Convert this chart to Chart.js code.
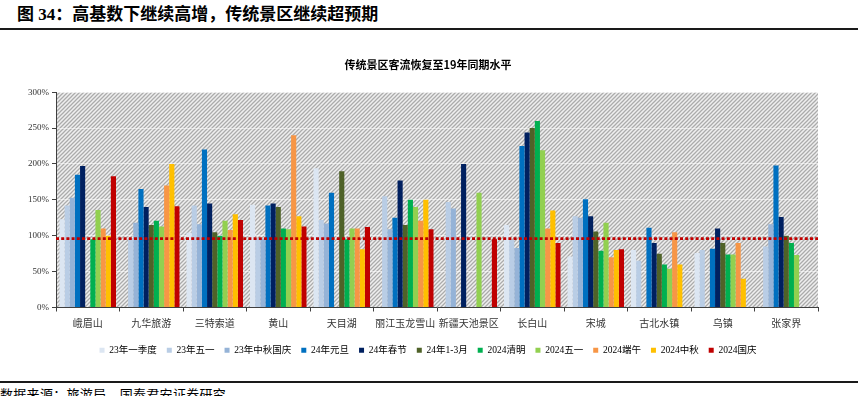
<!DOCTYPE html>
<html>
<head>
<meta charset="utf-8">
<script src="https://cdn.jsdelivr.net/npm/chart.js@4.4.0/dist/chart.umd.min.js"></script>
<style>
  body { margin: 0; background: #fff; width: 858px; height: 396px; overflow: hidden; position: relative;
         font-family: "Liberation Serif", "Noto Sans CJK SC", serif; color: #000; }
  #head { position: absolute; left: 17px; top: 4px; font-size: 17px; font-weight: bold; line-height: 22px; white-space: nowrap; }
  #headLine { position: absolute; left: 0; top: 28px; width: 858px; height: 2px; background: #1a1a1a; }
  #box { position: absolute; left: 0; top: 40px; width: 858px; height: 340px; }
  #footLine { position: absolute; left: 0; top: 381px; width: 858px; height: 2px; background: #1a1a1a; }
  #foot { position: absolute; left: 0; top: 387px; font-size: 13px; line-height: 16px; letter-spacing: 0.3px; white-space: nowrap; }
</style>
</head>
<body>
<div id="head">图 34：高基数下继续高增，传统景区继续超预期</div>
<div id="headLine"></div>
<div id="box"><canvas id="chart" width="858" height="340"></canvas></div>
<div id="footLine"></div>
<div id="foot">数据来源：旅游局，国泰君安证券研究</div>
<script>
// categories and series (percent of 2019 level)
const categories = ['峨眉山', '九华旅游', '三特索道', '黄山', '天目湖', '丽江玉龙雪山', '新疆天池景区', '长白山', '宋城', '古北水镇', '乌镇', '张家界'];
const seriesNames = ['23年一季度', '23年五一', '23年中秋国庆', '24年元旦', '24年春节', '24年1-3月', '2024清明', '2024五一', '2024端午', '2024中秋', '2024国庆'];

const q1_2023 =        [123, null, 104, 143, 194, null, null, 115, 71, 80, 76, null];
const mayDay_2023 =    [142, 97, 142, 97, 122, 155, 147, 94, 127, 65, 80, 85];
const autumn_2023 =    [153, 118, 116, 96, 117, 109, 138, 83, 125, null, null, 116];
const newYear_2024 =   [185, 165, 220, 142, 160, 125, null, 225, 151, 111, 82, 198];
const spring_2024 =    [197, 140, 145, 145, null, 177, 200, 244, 127, 90, 110, 126];
const q1_2024 =        [null, 115, 105, 140, 190, 115, null, 250, 106, 75, 90, 100];
const qingming_2024 =  [95, 121, 100, 110, 95, 150, null, 260, 79, 60, 74, 90];
const mayDay_2024 =    [136, 113, 121, 109, 110, 140, 160, 219, 118, 54, 74, 73];
const duanwu_2024 =    [110, 170, 108, 240, 110, 121, null, 110, 70, 105, 90, null];
const midAutumn_2024 = [100, 200, 130, 127, 81, 150, null, 135, 80, 60, 40, null];
const national_2024 =  [183, 141, 122, 113, 112, 109, 95, 90, 81, null, null, null];

const baseline = 96;   // red dotted 19年 reference line
const yTickLabels = ['0%', '50%', '100%', '150%', '200%', '250%', '300%'];

const seriesData = [q1_2023, mayDay_2023, autumn_2023, newYear_2024, spring_2024, q1_2024,
                    qingming_2024, mayDay_2024, duanwu_2024, midAutumn_2024, national_2024];
const colors = ['#dce6f2', '#b9cde5', '#95b3d7', '#0070c0', '#002060', '#4f6228',
                '#00b050', '#92d050', '#f79646', '#ffc000', '#c00000'];

// grey diagonal hatch for the plot area
function makeHatch() {
    var p = document.createElement('canvas');
    p.width = 4; p.height = 4;
    var g = p.getContext('2d');
    g.fillStyle = '#efefef';
    g.fillRect(0, 0, 4, 4);
    g.strokeStyle = '#ababab';
    g.lineWidth = 1.25;
    g.beginPath();
    g.moveTo(0, 4); g.lineTo(4, 0);
    g.moveTo(-1, 1); g.lineTo(1, -1);
    g.moveTo(3, 5); g.lineTo(5, 3);
    g.stroke();
    return p;
}

const hatchPlugin = {
    id: 'hatch',
    beforeDraw(chart) {
        const {ctx, chartArea} = chart;
        ctx.save();
        ctx.fillStyle = ctx.createPattern(makeHatch(), 'repeat');
        ctx.fillRect(chartArea.left, chartArea.top, chartArea.right - chartArea.left, chartArea.bottom - chartArea.top);
        ctx.restore();
    }
};

// y scale box is kept narrow so title/legend centre like the original;
// widen it after layout so the tick labels are not clipped
const yLabelRoom = {
    id: 'yLabelRoom',
    afterLayout(chart) {
        chart.scales.y.left = 0;
    }
};

const refLinePlugin = {
    id: 'refLine',
    afterDatasetsDraw(chart) {
        const {ctx, chartArea, scales} = chart;
        const y = scales.y.getPixelForValue(baseline);
        ctx.save();
        ctx.strokeStyle = '#c00000';
        ctx.lineWidth = 2.8;
        ctx.setLineDash([3, 2.2]);
        ctx.beginPath();
        ctx.moveTo(chartArea.left, y);
        ctx.lineTo(chartArea.right, y);
        ctx.stroke();
        ctx.restore();
    }
};

Chart.defaults.font.family = '"Liberation Serif", "Noto Sans CJK SC", serif';

var datasets = [];
for (var i = 0; i < seriesNames.length; i++) {
    datasets.push({
        label: seriesNames[i],
        data: seriesData[i],
        backgroundColor: colors[i],
        borderWidth: 0,
        barPercentage: 1,
        categoryPercentage: 0.89
    });
}

new Chart(document.getElementById('chart').getContext('2d'), {
    type: 'bar',
    data: { labels: categories, datasets: datasets },
    options: {
        responsive: false,
        animation: false,
        devicePixelRatio: 1,
        layout: { padding: { left: 38, right: 40, top: 0, bottom: 15 } },
        plugins: {
            title: {
                display: true,
                text: '传统景区客流恢复至19年同期水平',
                color: '#000',
                font: { size: 11, weight: 'bold', family: '"Noto Sans CJK SC"' },
                padding: { top: 18, bottom: 21 }
            },
            legend: {
                position: 'bottom',
                labels: {
                    boxWidth: 5,
                    boxHeight: 5,
                    padding: 10,
                    color: '#000',
                    font: { size: 9.5 }
                }
            },
            tooltip: { enabled: false }
        },
        scales: {
            x: {
                grid: { offset: true, drawOnChartArea: false, tickLength: 4, color: '#404040' },
                border: { color: '#404040' },
                ticks: {
                    color: '#333',
                    font: { size: 10, family: '"Noto Sans CJK SC"' },
                    padding: 6,
                    maxRotation: 0,
                    autoSkip: false
                },
                afterFit: function(s) { s.height = 28; }
            },
            y: {
                min: 0,
                max: 300,
                ticks: {
                    stepSize: 50,
                    color: '#333',
                    padding: 3,
                    font: { size: 9 },
                    callback: function(v, idx) { return yTickLabels[idx]; }
                },
                grid: { color: 'rgba(255,255,255,0.55)', tickLength: 4, tickColor: '#404040' },
                border: { color: '#404040' },
                afterFit: function(s) { s.width = 18; }
            }
        }
    },
    plugins: [hatchPlugin, refLinePlugin, yLabelRoom]
});
</script>
</body>
</html>
